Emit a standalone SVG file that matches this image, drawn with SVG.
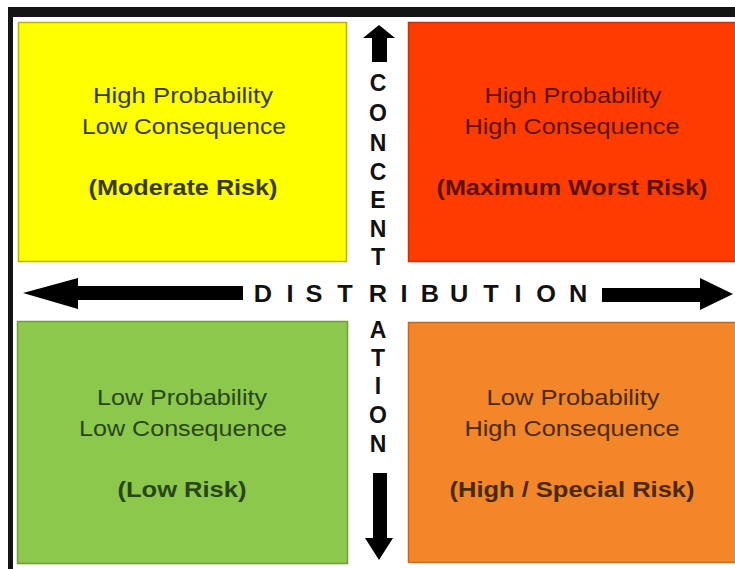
<svg xmlns="http://www.w3.org/2000/svg" width="735" height="569" viewBox="0 0 735 569">
<style>
.q{font-family:"Liberation Sans",Arial,sans-serif;font-size:22px;text-anchor:middle}
.b{font-weight:bold}
.ax{font-family:"Liberation Sans",Arial,sans-serif;font-size:23px;font-weight:bold;fill:#111;text-anchor:middle}
.arr{fill:#000}
</style>
<rect x="0" y="0" width="735" height="569" fill="#fff"/>
<rect x="8" y="7" width="727" height="10" fill="#141414"/>
<rect x="8" y="7" width="5" height="562" fill="#141414"/>

<g id="q-high-prob-low-cons">
<rect x="18.5" y="22.5" width="328" height="239" fill="#ffff00" stroke="#b8b400" stroke-width="1.5"/>
<g fill="#3a3a12">
<text class="q" x="183" y="103" textLength="180" lengthAdjust="spacingAndGlyphs">High Probability</text>
<text class="q" x="184" y="134" textLength="204" lengthAdjust="spacingAndGlyphs">Low Consequence</text>
<text class="q b" x="183" y="195" textLength="189" lengthAdjust="spacingAndGlyphs">(Moderate Risk)</text>
</g>
</g>

<g id="q-high-prob-high-cons">
<rect x="408.5" y="22.5" width="340" height="239" fill="#ff3c00" stroke="#c9300e" stroke-width="1.5"/>
<g fill="#5c1204">
<text class="q" x="573" y="103" textLength="177" lengthAdjust="spacingAndGlyphs">High Probability</text>
<text class="q" x="572" y="134" textLength="215" lengthAdjust="spacingAndGlyphs">High Consequence</text>
<text class="q b" x="572" y="195" textLength="271" lengthAdjust="spacingAndGlyphs">(Maximum Worst Risk)</text>
</g>
</g>

<g id="q-low-prob-low-cons">
<rect x="17.5" y="321.5" width="330" height="242" fill="#8cc84c" stroke="#6e9e3a" stroke-width="1.5"/>
<g fill="#28461a">
<text class="q" x="182" y="405" textLength="170" lengthAdjust="spacingAndGlyphs">Low Probability</text>
<text class="q" x="183" y="436" textLength="208" lengthAdjust="spacingAndGlyphs">Low Consequence</text>
<text class="q b" x="182" y="497" textLength="129" lengthAdjust="spacingAndGlyphs">(Low Risk)</text>
</g>
</g>

<g id="q-low-prob-high-cons">
<rect x="408.5" y="322.5" width="340" height="240" fill="#f28629" stroke="#c56a1e" stroke-width="1.5"/>
<g fill="#4a2a0e">
<text class="q" x="573" y="405" textLength="173" lengthAdjust="spacingAndGlyphs">Low Probability</text>
<text class="q" x="572" y="436" textLength="215" lengthAdjust="spacingAndGlyphs">High Consequence</text>
<text class="q b" x="572" y="497" textLength="245" lengthAdjust="spacingAndGlyphs">(High / Special Risk)</text>
</g>
</g>

<g id="connectors">
<polygon class="arr" points="23,293 78,278 78,286 243,286 243,300 78,300 78,309"/>
<polygon class="arr" points="602,288 700,288 700,278 733,294 700,310 700,302 602,302"/>
<polygon class="arr" points="379,25 395,38 387,38 387,62 372,62 372,38 363,38"/>
<polygon class="arr" points="373,473 387,473 387,538 393,538 379,560 365,538 373,538"/>
</g>

<g id="axis-labels">
<g transform="scale(1.1,1)">
<text class="ax" x="239.1 263.6 285.5 313.6 343.6 367.3 390.9 417.3 446.4 470.9 496.4 525.5" y="302">DISTRIBUTION</text>
</g>
<text class="ax" x="378" y="91">C</text>
<text class="ax" x="378" y="121">O</text>
<text class="ax" x="378" y="151">N</text>
<text class="ax" x="378" y="180">C</text>
<text class="ax" x="378" y="208">E</text>
<text class="ax" x="378" y="237">N</text>
<text class="ax" x="378" y="265">T</text>
<text class="ax" x="378" y="338">A</text>
<text class="ax" x="378" y="366">T</text>
<text class="ax" x="378" y="394">I</text>
<text class="ax" x="378" y="423">O</text>
<text class="ax" x="378" y="452">N</text>
</g>
</svg>
